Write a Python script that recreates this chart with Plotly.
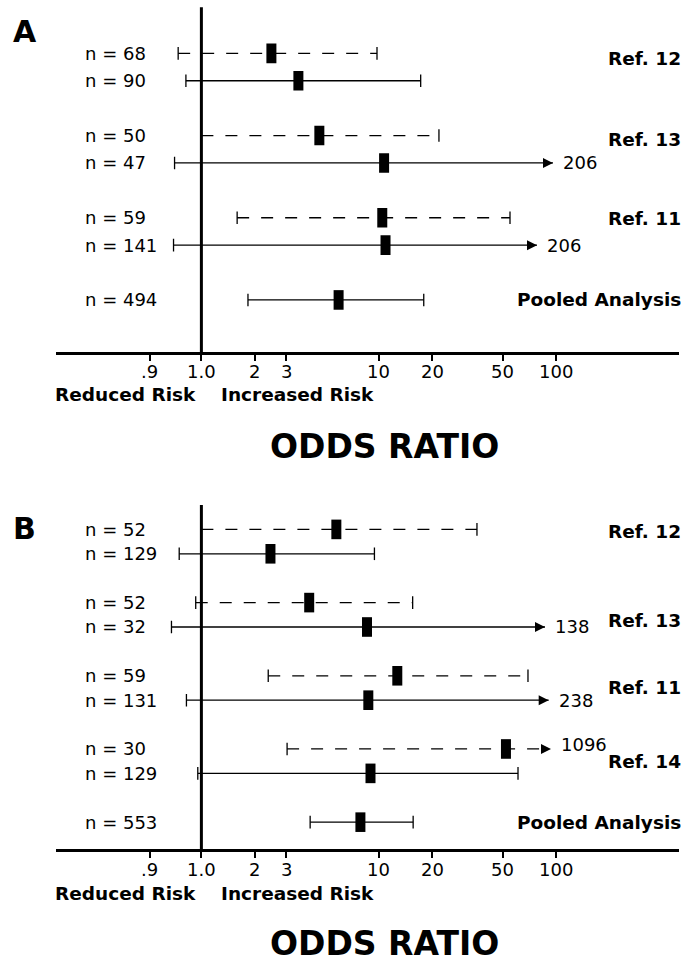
import numpy as np
import plotly.graph_objects as go

# ---------------- data ----------------
# Panel A
a_n = [68, 90, 50, 47, 59, 141, 494]
a_or = [2.48, 3.52, 4.62, 10.7, 10.45, 10.9, 5.93]
a_lo = [0.955, 0.970, 1.0, 0.948, 1.59, 0.946, 1.83]
a_hi = [9.76, 17.2, 21.8, 206, 54.8, 206, 17.9]
a_dashed = [True, False, True, False, True, False, False]
a_arrow_tip = [None, None, None, 95.7, None, 77.8, None]
a_refs = ["Ref. 12", "Ref. 13", "Ref. 11", "Pooled Analysis"]

# Panel B
b_n = [52, 129, 52, 32, 59, 131, 30, 129, 553]
b_or = [5.76, 2.45, 4.05, 8.57, 12.7, 8.72, 52, 8.97, 7.87]
b_lo = [1.0, 0.957, 0.989, 0.942, 2.38, 0.971, 3.04, 0.993, 4.10]
b_hi = [35.7, 9.44, 15.5, 138, 69.2, 238, 1096, 60.8, 15.6]
b_dashed = [True, False, True, False, True, False, True, False, False]
b_arrow_tip = [None, None, None, 86.3, None, 90.5, 93.3, None, None]
b_refs = ["Ref. 12", "Ref. 13", "Ref. 11", "Ref. 14", "Pooled Analysis"]

tick_vals = [0.9, 1.0, 2, 3, 10, 20, 50, 100]
tick_text = [".9", "1.0", "2", "3", "10", "20", "50", "100"]

# ---------------- layout constants ----------------
W, H = 685, 962
FONT = "DejaVu Sans"
LEFT_SPAN = 0.2907  # display width (decades) between .9 and 1.0
X_RANGE = [-0.822, 2.691]
X_DOMAIN = [55.5 / W, 679 / W]


def pos(v):
    """Display position: log10 above 1, compressed linear below 1."""
    v = float(v)
    if v >= 1:
        return np.log10(v)
    return -(1 - v) / 0.1 * LEFT_SPAN


def rows_for(n_rows):
    ys = []
    for i in range(n_rows - 1):
        ys.append((i // 2) * 3 + i % 2)
    ys.append(ys[-1] + 2)
    return ys


panels = [
    dict(n=a_n, orv=a_or, lo=a_lo, hi=a_hi, dashed=a_dashed, tip=a_arrow_tip,
         refs=a_refs, ref_rows=[0.2, 3.16, 6.01, 9.0],
         xa="x", ya="y", yrange=[10.9, -1.68], ydom=[1 - 352 / H, 1 - 7.3 / H],
         letter="A", letter_y=31, tick_y=371.5, risk_y=395, title_y=446,
         label_shift={}),
    dict(n=b_n, orv=b_or, lo=b_lo, hi=b_hi, dashed=b_dashed, tip=b_arrow_tip,
         refs=b_refs, ref_rows=[0.1, 3.72, 6.48, 9.52, 12.0],
         xa="x2", ya="y2", yrange=[13.1, -1.0], ydom=[1 - 849 / H, 1 - 505 / H],
         letter="B", letter_y=528, tick_y=869.5, risk_y=893, title_y=943,
         label_shift={6: 4}),
]

fig = go.Figure()
annotations = []
shapes = []


def txt(**kw):
    base = dict(showarrow=False, xanchor="center", yanchor="middle")
    base.update(kw)
    annotations.append(base)


for p in panels:
    ys = rows_for(len(p["n"]))
    for i, y in enumerate(ys):
        lo, hi, est = p["lo"][i], p["hi"][i], p["orv"][i]
        arrow = hi > 100
        end = p["tip"][i] if arrow else hi
        dash = "12px,12px" if p["dashed"][i] else "solid"
        # CI line
        fig.add_trace(go.Scatter(
            x=[pos(lo), pos(end)], y=[y, y], mode="lines",
            line=dict(color="black", width=1.3, dash=dash),
            xaxis=p["xa"], yaxis=p["ya"], showlegend=False, hoverinfo="skip"))
        # caps
        caps = [pos(lo)] if arrow else [pos(lo), pos(hi)]
        fig.add_trace(go.Scatter(
            x=caps, y=[y] * len(caps), mode="markers",
            marker=dict(symbol="line-ns", size=9, color="black",
                        line=dict(color="black", width=1.3)),
            xaxis=p["xa"], yaxis=p["ya"], showlegend=False, hoverinfo="skip"))
        # arrow head
        if arrow:
            fig.add_trace(go.Scatter(
                x=[pos(end)], y=[y], mode="markers",
                marker=dict(symbol="arrow-right", size=10, color="black",
                            line=dict(width=0)),
                xaxis=p["xa"], yaxis=p["ya"], showlegend=False, hoverinfo="skip"))
            txt(x=pos(end), y=y, xref=p["xa"], yref=p["ya"], text=str(hi),
                xanchor="left", xshift=8, yshift=p["label_shift"].get(i, 0),
                font=dict(family=FONT, size=18, color="black"))
        # point estimate (rectangle)
        fig.add_trace(go.Scatter(
            x=[pos(est)], y=[y], mode="markers",
            marker=dict(symbol="line-ns", size=14, color="black",
                        line=dict(color="black", width=10)),
            xaxis=p["xa"], yaxis=p["ya"], showlegend=False, hoverinfo="skip"))
        # n label
        txt(x=83 / W, y=y, xref="paper", yref=p["ya"], text=f"n = {p['n'][i]}",
            xanchor="left", font=dict(family=FONT, size=18, color="black"))

    # reference labels
    for label, ry in zip(p["refs"], p["ref_rows"]):
        txt(x=683 / W, y=ry, xref="paper", yref=p["ya"], text=f"<b>{label}</b>",
            xanchor="right", font=dict(family=FONT, size=18.5, color="black"))

    # tick labels
    for v, t in zip(tick_vals, tick_text):
        txt(x=pos(v), y=1 - p["tick_y"] / H, xref=p["xa"], yref="paper", text=t,
            font=dict(family=FONT, size=18, color="black"))

    # vertical reference line at OR = 1.0
    shapes.append(dict(type="line", xref=p["xa"], yref=p["ya"] + " domain",
                       x0=pos(1.0), x1=pos(1.0), y0=0, y1=1,
                       line=dict(color="black", width=3), layer="above"))

    # panel letter and texts
    txt(x=25 / W, y=1 - p["letter_y"] / H, xref="paper", yref="paper",
        text=f"<b>{p['letter']}</b>", font=dict(family=FONT, size=30, color="black"))
    txt(x=53 / W, y=1 - p["risk_y"] / H, xref="paper", yref="paper",
        text="<b>Reduced Risk</b>", xanchor="left",
        font=dict(family=FONT, size=18.5, color="black"))
    txt(x=219 / W, y=1 - p["risk_y"] / H, xref="paper", yref="paper",
        text="<b>Increased Risk</b>", xanchor="left",
        font=dict(family=FONT, size=18.5, color="black"))
    txt(x=384 / W, y=1 - p["title_y"] / H, xref="paper", yref="paper",
        text="<b>ODDS RATIO</b>", font=dict(family=FONT, size=33, color="black"))

xaxis_common = dict(
    range=X_RANGE, domain=X_DOMAIN,
    tickmode="array", tickvals=[pos(v) for v in tick_vals], ticktext=tick_text,
    showticklabels=False,
    showline=True, linecolor="black", linewidth=3,
    ticks="outside", ticklen=6, tickwidth=1.5, tickcolor="black",
    showgrid=False, zeroline=False, fixedrange=True,
)
yaxis_common = dict(visible=False, showgrid=False, zeroline=False, fixedrange=True)

fig.update_layout(
    width=W, height=H,
    margin=dict(l=0, r=0, t=0, b=0),
    paper_bgcolor="white", plot_bgcolor="white",
    xaxis=dict(**xaxis_common, anchor="y"),
    xaxis2=dict(**xaxis_common, anchor="y2"),
    yaxis=dict(**yaxis_common, range=panels[0]["yrange"], domain=panels[0]["ydom"], anchor="x"),
    yaxis2=dict(**yaxis_common, range=panels[1]["yrange"], domain=panels[1]["ydom"], anchor="x2"),
    annotations=annotations,
    shapes=shapes,
    showlegend=False,
)

fig.write_html(
    "out.html",
    config={"displayModeBar": False},
    post_script="document.body.style.margin='0';document.body.style.overflow='hidden';",
)
